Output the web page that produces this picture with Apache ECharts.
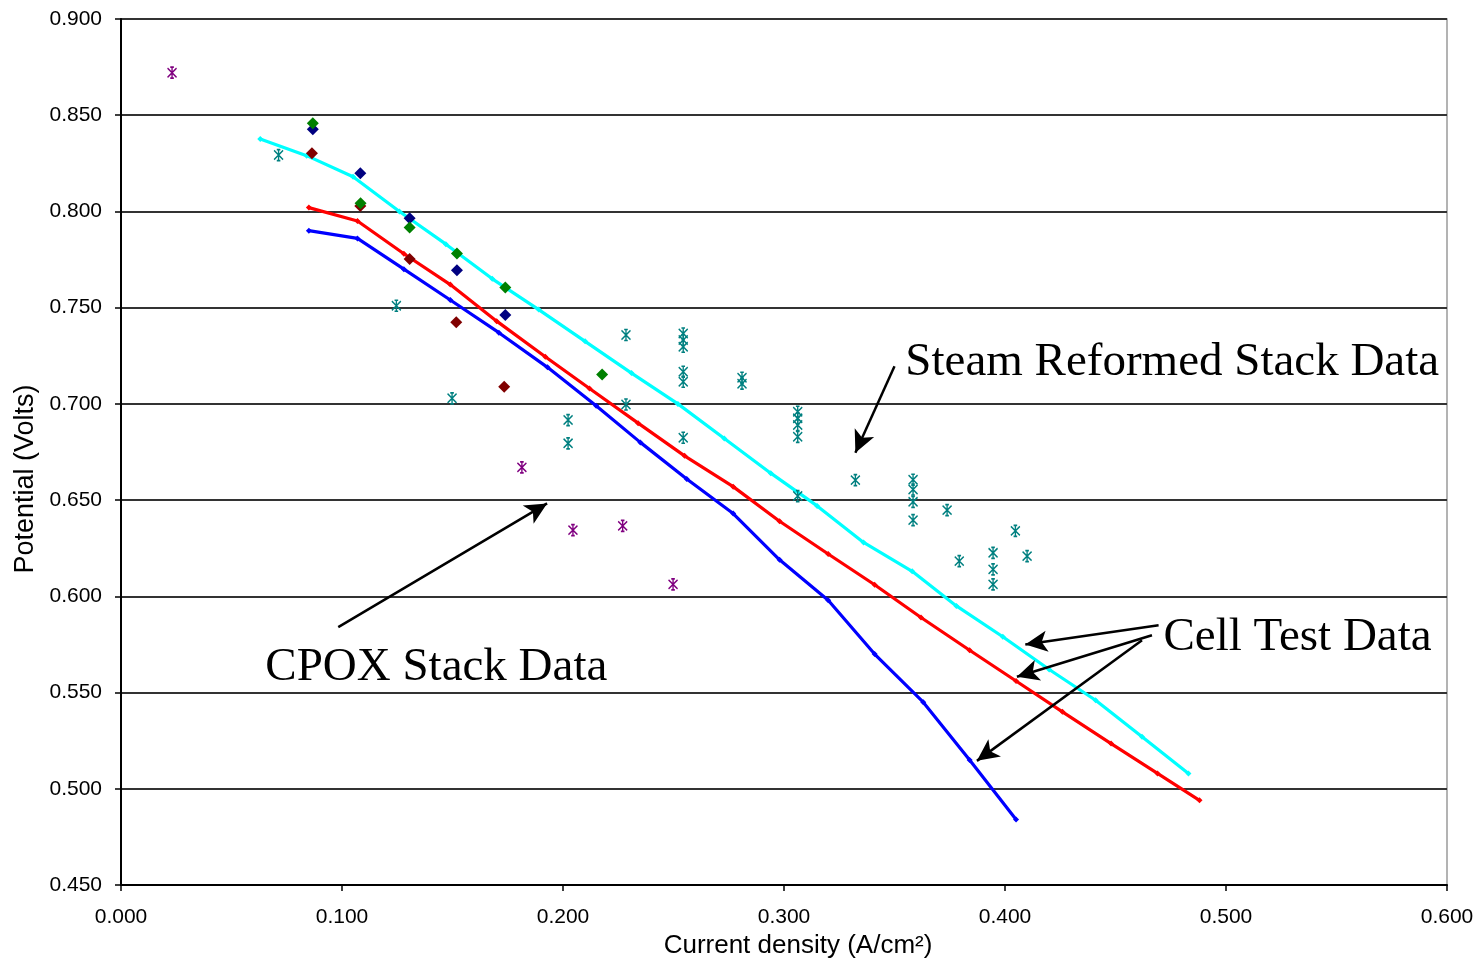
<!DOCTYPE html>
<html>
<head>
<meta charset="utf-8">
<title>Potential vs Current density</title>
<script src="https://cdn.jsdelivr.net/npm/echarts@6/dist/echarts.min.js"></script>
<style>
  html, body { margin: 0; padding: 0; background: #fff; }
  #chart { width: 1481px; height: 959px; }
</style>
</head>
<body>
<div id="chart"></div>
<script>
// Axis ranges and ticks
const xAxisTicks = { min: 0, max: 0.6, interval: 0.1 };
const yAxisTicks = { min: 0.45, max: 0.9, interval: 0.05 };

// Cell test curves [current density, potential]
const cellTestCyan = [
  [0.063, 0.8376], [0.084, 0.829], [0.105, 0.818], [0.126, 0.800], [0.147, 0.783],
  [0.168, 0.765], [0.189, 0.749], [0.210, 0.7325], [0.231, 0.716], [0.252, 0.700],
  [0.273, 0.682], [0.294, 0.664], [0.315, 0.647], [0.336, 0.628], [0.358, 0.613],
  [0.378, 0.595], [0.399, 0.579], [0.420, 0.562], [0.441, 0.546], [0.462, 0.527],
  [0.483, 0.508]
];
const cellTestRed = [
  [0.085, 0.802], [0.107, 0.795], [0.128, 0.778], [0.149, 0.762], [0.170, 0.743],
  [0.192, 0.7245], [0.212, 0.708], [0.234, 0.690], [0.255, 0.673], [0.277, 0.657],
  [0.298, 0.639], [0.320, 0.622], [0.341, 0.606], [0.362, 0.589], [0.384, 0.572],
  [0.405, 0.556], [0.426, 0.540], [0.448, 0.5235], [0.469, 0.508], [0.488, 0.494]
];
const cellTestBlue = [
  [0.085, 0.790], [0.107, 0.786], [0.128, 0.770], [0.149, 0.754], [0.171, 0.737],
  [0.193, 0.719], [0.215, 0.699], [0.235, 0.680], [0.256, 0.661], [0.277, 0.643],
  [0.298, 0.619], [0.320, 0.598], [0.341, 0.570], [0.363, 0.545], [0.384, 0.515],
  [0.405, 0.484]
];

// Steam reformed stack measurements (diamonds)
const stackGreen = [[0.0868, 0.8458], [0.1084, 0.8042], [0.1306, 0.7917], [0.152, 0.7782], [0.1739, 0.7605], [0.2177, 0.7153]];
const stackNavy = [[0.0868, 0.8427], [0.1083, 0.8198], [0.1306, 0.7964], [0.152, 0.7695], [0.1739, 0.7462]];
const stackMaroon = [[0.0864, 0.8302], [0.1083, 0.8028], [0.1306, 0.7753], [0.1517, 0.7424], [0.1734, 0.7089]];

// Stack measurements (asterisks)
const cpoxPurple = [[0.0231, 0.8721], [0.1814, 0.667], [0.2045, 0.6344], [0.227, 0.6366], [0.2498, 0.6062]];
const steamTeal = [
  [0.0713, 0.8293], [0.1246, 0.751], [0.1498, 0.7029], [0.2023, 0.6916], [0.2023, 0.6795],
  [0.2285, 0.7358], [0.2285, 0.6997],
  [0.2544, 0.7366], [0.2544, 0.7332], [0.2544, 0.7297], [0.2544, 0.7167], [0.2544, 0.7115], [0.2544, 0.6824],
  [0.281, 0.7136], [0.281, 0.7105],
  [0.3062, 0.6959], [0.3062, 0.6925], [0.3062, 0.689], [0.3062, 0.6829], [0.3062, 0.6521],
  [0.3323, 0.6604],
  [0.3584, 0.6606], [0.3584, 0.6555], [0.3584, 0.6491], [0.3584, 0.6396],
  [0.3738, 0.6448], [0.3793, 0.6183],
  [0.3946, 0.6226], [0.3946, 0.614], [0.3946, 0.6062],
  [0.4047, 0.634], [0.41, 0.6209]
];

// Annotation text anchors (left edge, vertical middle) and arrows [from, to]
const noteLabels = [
  { name: 'Steam Reformed Stack Data', value: [0.3549, 0.7212] },
  { name: 'Cell Test Data', value: [0.4717, 0.5783] },
  { name: 'CPOX Stack Data', value: [0.0653, 0.5627] }
];
const noteArrows = [
  [[0.350, 0.7196], [0.3323, 0.6746]],
  [[0.0983, 0.5840], [0.1928, 0.6483]],
  [[0.4695, 0.5850], [0.4092, 0.5750]],
  [[0.4665, 0.5798], [0.4054, 0.5582]],
  [[0.4620, 0.5772], [0.3873, 0.5145]]
];

const asteriskPath = 'path://M0,1L10,11M10,1L0,11M5,0L5,12M3,0L7,0M3,12L7,12';
const sansFont = '"Liberation Sans", Arial, sans-serif';
const serifFont = '"Liberation Serif", "Times New Roman", serif';

function lineSeries(data, color) {
  return {
    type: 'line', data: data, color: color, z: 3,
    symbol: 'diamond', symbolSize: 6, showSymbol: true,
    lineStyle: { color: color, width: 3.2 },
    itemStyle: { color: color, opacity: 1 },
    emphasis: { disabled: true }, animation: false
  };
}
function diamondSeries(data, color) {
  return {
    type: 'scatter', data: data, z: 5,
    symbol: 'diamond', symbolSize: 12,
    itemStyle: { color: color, opacity: 1 },
    emphasis: { disabled: true }, animation: false
  };
}
function asteriskSeries(data, color) {
  return {
    type: 'scatter', data: data, z: 4,
    symbol: asteriskPath, symbolSize: [9, 11],
    itemStyle: { color: 'none', borderColor: color, borderWidth: 1.5, opacity: 1 },
    emphasis: { disabled: true }, animation: false
  };
}

const chart = echarts.init(document.getElementById('chart'), null, { renderer: 'canvas' });
chart.setOption({
  backgroundColor: '#ffffff',
  animation: false,
  grid: {
    left: 121, top: 19, right: 34, bottom: 74, outerBoundsMode: 'none',
    show: true, borderColor: '#9a9a9a', borderWidth: 1.5, backgroundColor: 'transparent'
  },
  xAxis: {
    type: 'value', min: xAxisTicks.min, max: xAxisTicks.max, interval: xAxisTicks.interval,
    name: 'Current density (A/cm\u00B2)', nameLocation: 'middle', nameGap: 35,
    nameTextStyle: { fontFamily: sansFont, fontSize: 26, color: '#000', padding: [0, 0, 0, 28] },
    axisLine: { show: true, onZero: false, lineStyle: { color: '#000', width: 2 } },
    axisTick: { show: true, length: 6, lineStyle: { color: '#000', width: 1.5 } },
    axisLabel: { fontFamily: sansFont, fontSize: 21, color: '#000', margin: 22, formatter: v => v.toFixed(3) },
    splitLine: { show: false }
  },
  yAxis: {
    type: 'value', min: yAxisTicks.min, max: yAxisTicks.max, interval: yAxisTicks.interval,
    name: 'Potential (Volts)', nameLocation: 'middle', nameGap: 80,
    nameTextStyle: { fontFamily: sansFont, fontSize: 27, color: '#000', padding: [0, 54, 0, 0] },
    axisLine: { show: true, onZero: false, lineStyle: { color: '#000', width: 2 } },
    axisTick: { show: true, length: 6, lineStyle: { color: '#000', width: 1.5 } },
    axisLabel: { fontFamily: sansFont, fontSize: 21, color: '#000', margin: 19, formatter: v => v.toFixed(3) },
    splitLine: { show: true, lineStyle: { color: '#333', width: 2 } }
  },
  series: [
    lineSeries(cellTestCyan, '#00ffff'),
    lineSeries(cellTestRed, '#ff0000'),
    lineSeries(cellTestBlue, '#0000ff'),
    asteriskSeries(steamTeal, '#008080'),
    asteriskSeries(cpoxPurple, '#800080'),
    diamondSeries(stackNavy, '#000080'),
    diamondSeries(stackMaroon, '#800000'),
    diamondSeries(stackGreen, '#008000'),
    {
      type: 'scatter', data: noteLabels, symbolSize: 0, z: 6, silent: true,
      itemStyle: { opacity: 1 },
      label: {
        show: true, position: 'right', distance: 0, formatter: '{b}',
        fontFamily: serifFont, fontSize: 47, color: '#000', opacity: 1
      },
      markLine: {
        silent: true, animation: false,
        symbol: ['none', 'arrow'], symbolSize: [16, 22],
        label: { show: false },
        lineStyle: { color: '#000', width: 2.5, type: 'solid', opacity: 1 },
        data: noteArrows.map(a => [{ coord: a[0] }, { coord: a[1] }])
      },
      animation: false
    }
  ]
});
</script>
</body>
</html>
